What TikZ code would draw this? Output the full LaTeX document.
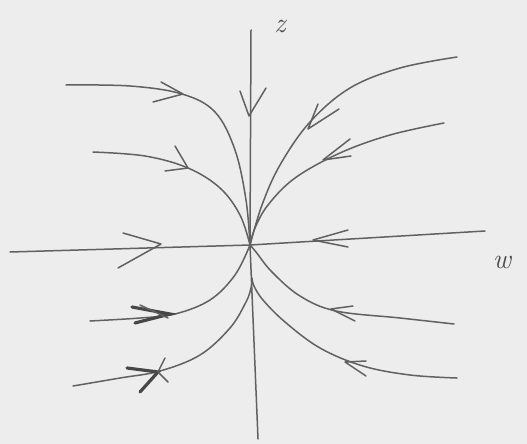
\documentclass[tikz,border=0pt]{standalone}
\begin{document}
\begin{tikzpicture}[x=1pt,y=-1pt,
  pen/.style={draw=black!62,line width=1.5pt,line cap=round,line join=round},
  heavy/.style={draw=black!72,line width=3.2pt,line cap=round},
  lab/.style={text=black!70,font=\fontsize{28}{28}\selectfont\itshape}]
\fill[black!7] (0,0) rectangle (527,444);
\useasboundingbox (0,0) rectangle (527,444);
\coordinate (O) at (250,245);
% axes
\draw[pen] (251,30) -- (O) -- (258,439);
\draw[pen] (10,252) -- (O) -- (485,231);
\node[lab] (zl) at (280,26) {z};
\node[lab] (wl) at (502,262) {w};
% axis arrows
\draw[pen] (240,91) -- (249,116) -- (266,88);
\draw[pen] (123,233) -- (161,244) -- (118,268);
\draw[pen] (348,230) -- (313,240) -- (348,247);
% upper trajectories
\draw[pen] plot[smooth,tension=0.6] coordinates {(66,85) (130,86) (182,94) (215,112) (235,150) (246,200) (O)};
\draw[pen] (161,82) -- (183,94) -- (153,102);
\draw[pen] plot[smooth,tension=0.6] coordinates {(93,152) (145,156) (188,168) (220,188) (240,215) (O)};
\draw[pen] (175,146) -- (188,168) -- (165,171);
\draw[pen] plot[smooth,tension=0.6] coordinates {(457,57) (400,68) (350,88) (310,122) (280,165) (262,205) (O)};
\draw[pen] (318,104) -- (308,129) -- (339,109);
\draw[pen] plot[smooth,tension=0.6] coordinates {(444,123) (390,135) (340,153) (295,178) (268,205) (255,228) (O)};
\draw[pen] (350,139) -- (323,160) -- (351,156);
% lower trajectories
\draw[pen] plot[smooth,tension=0.6] coordinates {(90,321) (140,318) (175,314) (210,300) (235,275) (O)};
\draw[heavy] (132,307) -- (170,314) -- (135,323);
\draw[pen] (140,305) -- (168,318);
\draw[pen] plot[smooth,tension=0.6] coordinates {(73,386) (120,378) (160,371) (200,355) (230,328) (246,302) (251,288) (252,280)};
\draw[heavy] (127,368) -- (158,372) -- (140,392);
\draw[pen] (165,358) -- (158,372) -- (168,382);
\draw[pen] plot[smooth,tension=0.6] coordinates {(454,324) (400,318) (336,311) (300,296) (272,272) (256,252) (O)};
\draw[pen] (353,306) -- (331,309) -- (355,321);
\draw[pen] plot[smooth,tension=0.6] coordinates {(457,378) (410,375) (363,366) (320,348) (285,322) (263,300) (254,286) (252,278)};
\draw[pen] (366,361) -- (345,362) -- (366,376);
\end{tikzpicture}
\end{document}
